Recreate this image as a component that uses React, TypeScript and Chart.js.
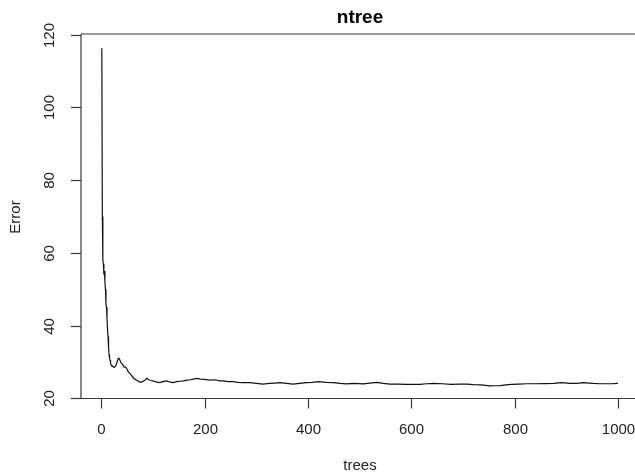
import React, { useEffect, useRef } from "react";
import { Chart, registerables } from "chart.js";

Chart.register(...registerables);

const trees = [1,2,3,4,5,6,7,8,9,10,11,12,13,14,15,16,17,18,19,20,22,25,28,31,33,35,38,41,44,47,50,52,55,58,62,66,70,75,80,85,88,92,96,100,106,113,120,126,132,139,146,152,159,166,172,178,185,192,200,210,220,230,236,246,255,265,275,288,300,313,325,335,346,358,371,384,397,408,420,435,449,462,475,490,507,520,533,546,559,575,591,605,617,630,643,660,678,694,708,720,736,752,762,772,783,794,808,823,840,858,875,891,907,920,933,945,952,965,975,988,1000];
const errors = [116.3,70,58,57,54,55,52,50,46,45,42,39,37,34,32,31,30.5,29.5,29.2,29.0,28.8,28.5,28.9,30.2,31.0,30.9,29.8,29.4,28.6,28.6,28.0,27.3,26.9,26.4,25.6,25.2,24.8,24.4,24.6,25.0,25.5,25.1,24.9,24.8,24.5,24.3,24.6,24.8,24.5,24.3,24.6,24.7,24.8,25.0,25.1,25.3,25.5,25.3,25.2,25.0,25.1,24.8,24.8,24.6,24.6,24.4,24.3,24.3,24.1,23.9,24.1,24.2,24.3,24.1,23.9,24.1,24.3,24.4,24.6,24.4,24.3,24.1,24.0,24.1,24.0,24.2,24.4,24.1,23.9,23.9,23.85,23.85,23.85,24.0,24.1,24.0,23.85,23.9,23.9,23.75,23.7,23.4,23.45,23.5,23.7,23.85,23.9,24.0,24.0,24.05,24.1,24.3,24.1,24.1,24.3,24.2,24.1,24.0,24.0,24.0,24.1];

const xTicks = [0, 200, 400, 600, 800, 1000];
const yTicks = [20, 40, 60, 80, 100, 120];
const titleText = "ntree";
const xLabel = "trees";
const yLabel = "Error";

const FONT = '"Liberation Sans", Arial, sans-serif';

const rPlot = {
  id: "rPlot",
  afterDraw(chart: any) {
    const { ctx, chartArea, scales } = chart;
    const xs = scales.x;
    const ys = scales.y;
    const { left, top, bottom } = chartArea;
    const farRight = chart.width + 10;
    ctx.save();
    ctx.strokeStyle = "#3a3a3a";
    ctx.lineWidth = 1.2;
    // box: top, left and bottom sides (right side lies beyond the image)
    ctx.beginPath();
    ctx.moveTo(left, top);
    ctx.lineTo(farRight, top);
    ctx.stroke();
    ctx.beginPath();
    ctx.moveTo(left, top);
    ctx.lineTo(left, bottom);
    ctx.stroke();
    ctx.beginPath();
    ctx.moveTo(left, bottom);
    ctx.lineTo(farRight, bottom);
    ctx.stroke();

    ctx.fillStyle = "#222";
    ctx.font = `15px ${FONT}`;
    ctx.textAlign = "center";
    ctx.textBaseline = "middle";
    xTicks.forEach((t) => {
      const px = Math.round(xs.getPixelForValue(t)) + 0.5;
      ctx.beginPath();
      ctx.moveTo(px, bottom);
      ctx.lineTo(px, bottom + 10);
      ctx.stroke();
      ctx.fillText(String(t), px, bottom + 31);
    });
    yTicks.forEach((t) => {
      const py = Math.round(ys.getPixelForValue(t)) + 0.5;
      ctx.beginPath();
      ctx.moveTo(left, py);
      ctx.lineTo(left - 10, py);
      ctx.stroke();
      ctx.save();
      ctx.translate(left - 31, py);
      ctx.rotate(-Math.PI / 2);
      ctx.fillText(String(t), 0, 0);
      ctx.restore();
    });
    ctx.font = `15px ${FONT}`;
    ctx.fillText(xLabel, 360, 466);
    ctx.save();
    ctx.translate(16, 217);
    ctx.rotate(-Math.PI / 2);
    ctx.fillText(yLabel, 0, 0);
    ctx.restore();
    ctx.font = `bold 19px ${FONT}`;
    ctx.fillStyle = "#000";
    ctx.fillText(titleText, 360, 18);
    ctx.restore();
  },
};

export default function App() {
  const ref = useRef<HTMLCanvasElement | null>(null);
  useEffect(() => {
    if (!ref.current) return;
    const chart = new Chart(ref.current, {
      type: "line",
      data: {
        datasets: [
          {
            data: trees.map((t, i) => ({ x: t, y: errors[i] })),
            borderColor: "#111",
            borderWidth: 1.2,
            pointRadius: 0,
            tension: 0,
            fill: false,
          },
        ],
      },
      options: {
        responsive: false,
        animation: false,
        layout: { padding: { left: 81, top: 34, right: 0, bottom: 76.5 } },
        plugins: { legend: { display: false }, tooltip: { enabled: false }, title: { display: false } },
        scales: {
          x: { type: "linear", min: -39.3, max: 1033, display: false },
          y: { type: "linear", min: 19.95, max: 120.2, display: false },
        },
      },
      plugins: [rPlot],
    });
    return () => chart.destroy();
  }, []);
  return (
    <div style={{ position: "absolute", left: 0, top: 0, width: 635, height: 475, overflow: "hidden", background: "#fff" }}>
      <canvas ref={ref} width={635} height={475} style={{ display: "block" }} />
    </div>
  );
}
